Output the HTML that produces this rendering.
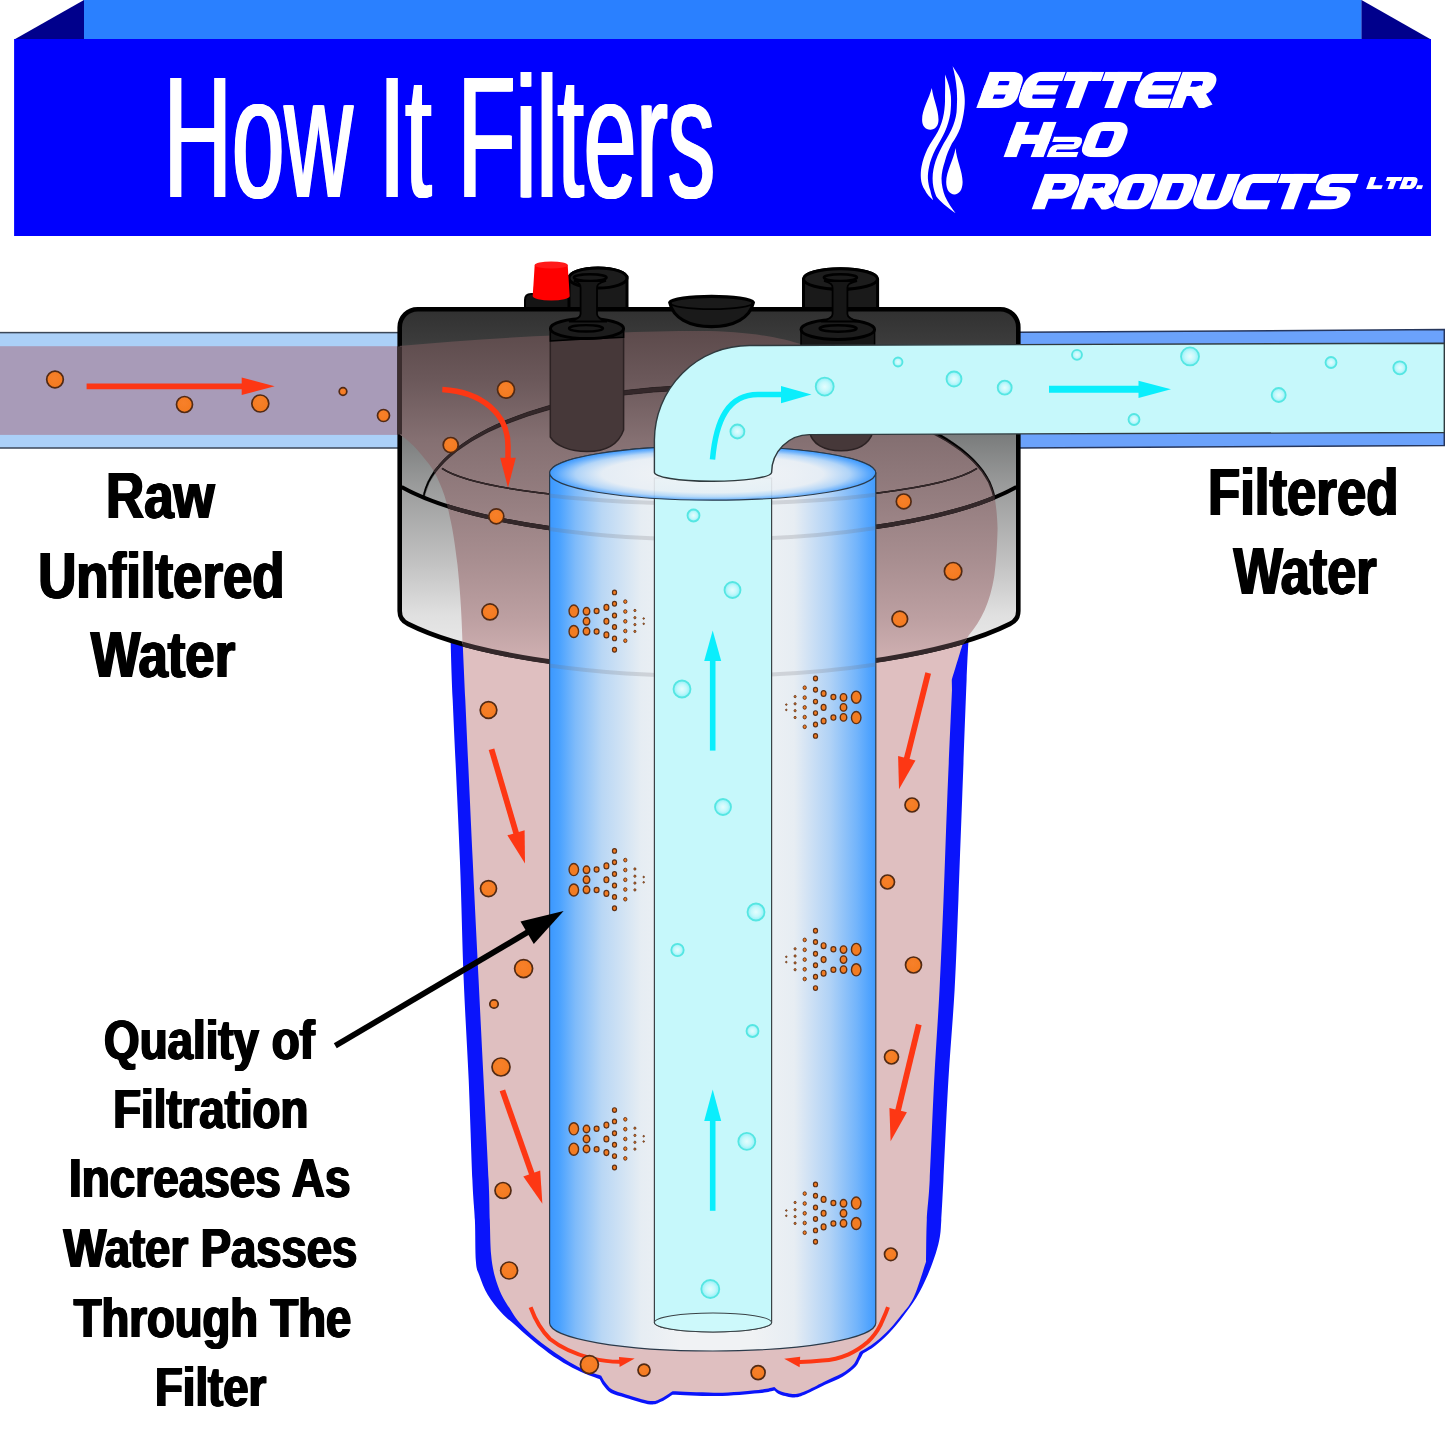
<!DOCTYPE html>
<html><head><meta charset="utf-8"><title>How It Filters</title>
<style>
html,body{margin:0;padding:0;background:#fff;}
body{width:1445px;height:1445px;overflow:hidden;font-family:"Liberation Sans",sans-serif;}
svg{display:block;font-family:"Liberation Sans",sans-serif;}
</style></head><body>
<svg width="1445" height="1445" viewBox="0 0 1445 1445">
<defs>
<radialGradient id="gPart" cx="0.45" cy="0.4" r="0.7">
 <stop offset="0" stop-color="#f7802a"/><stop offset="0.75" stop-color="#f47b20"/><stop offset="1" stop-color="#e8701a"/>
</radialGradient>
<radialGradient id="gBub" cx="0.5" cy="0.5" r="0.5">
 <stop offset="0" stop-color="#e4fdfe"/><stop offset="0.55" stop-color="#c4f8fb"/><stop offset="1" stop-color="#8ff0f8"/>
</radialGradient>
<linearGradient id="gCap" gradientUnits="userSpaceOnUse" x1="0" y1="307" x2="0" y2="672">
 <stop offset="0" stop-color="#303030"/>
 <stop offset="0.09" stop-color="#3b3b3b"/>
 <stop offset="0.364" stop-color="#7d7f7f"/>
 <stop offset="0.493" stop-color="#9b9c9c"/>
 <stop offset="0.693" stop-color="#c0c0c0"/>
 <stop offset="0.844" stop-color="#e0e0e0"/>
 <stop offset="1" stop-color="#efefef"/>
</linearGradient>
<linearGradient id="gWater" gradientUnits="userSpaceOnUse" x1="0" y1="330" x2="0" y2="710">
 <stop offset="0" stop-color="#5c4a4b"/>
 <stop offset="0.13" stop-color="#6b585a"/>
 <stop offset="0.29" stop-color="#857072"/>
 <stop offset="0.447" stop-color="#957e80"/>
 <stop offset="0.605" stop-color="#a88e90"/>
 <stop offset="0.763" stop-color="#bda0a2"/>
 <stop offset="0.88" stop-color="#d2b2b3"/>
 <stop offset="1" stop-color="#dfbfc0"/>
</linearGradient>
<linearGradient id="gCyl" gradientUnits="userSpaceOnUse" x1="549.6" y1="0" x2="875.8" y2="0">
 <stop offset="0" stop-color="#3b98ff"/>
 <stop offset="0.03" stop-color="#4aa2ff"/>
 <stop offset="0.08" stop-color="#7fbbfa"/>
 <stop offset="0.16" stop-color="#b9d7f5"/>
 <stop offset="0.28" stop-color="#e6edf3"/>
 <stop offset="0.40" stop-color="#f0f2f4"/>
 <stop offset="0.62" stop-color="#f0f2f4"/>
 <stop offset="0.75" stop-color="#e7edf3"/>
 <stop offset="0.86" stop-color="#b0d2f6"/>
 <stop offset="0.94" stop-color="#74b5fb"/>
 <stop offset="1" stop-color="#3f9bff"/>
</linearGradient>
<radialGradient id="gCylTop" cx="0.5" cy="0.52" r="0.5">
 <stop offset="0" stop-color="#f3f4f6"/>
 <stop offset="0.68" stop-color="#e9eff5"/>
 <stop offset="0.84" stop-color="#b4d6f8"/>
 <stop offset="0.95" stop-color="#5fabfd"/>
 <stop offset="1" stop-color="#3f9bff"/>
</radialGradient>
<clipPath id="clipCap"><path id="capShape" d="M 417.7,309.2 H 1000.3 A 18 18 0 0 1 1018.3,327.2 V 611 Q 1018.3,620 1010,623.9 A 340 90 0 0 1 408,623.9 Q 399.7,620 399.7,611 V 327.2 A 18 18 0 0 1 417.7,309.2 Z"/></clipPath>
<path id="waterCap" d="M 399,346 C 500,337 620,331 700,331 C 745,331 780,337 803,345 L 936,400 L 936,434.3 A 286 117.5 0 0 1 994.2,494.6 C 996,505 997.3,516 997.6,528.5 C 997,550 996,562 994.4,575 C 992,590 989,600 984.7,610 C 980,620 975,628 969,635 L 960,650 L 960,700 L 464,700 L 462.4,641 C 461.5,610 460,590 457.5,565 C 455,545 453,530 449.8,517 C 447,503 444,493 440,484 C 436,474 431,466 424.6,458.8 C 418,450 410,441 399,434.3 Z"/>
<clipPath id="clipUpper"><path d="M 390,300 H 1030 V 487 L 1016.5,487 A 340 90 0 0 1 401.5,487 L 390,487 Z"/></clipPath>
<clipPath id="clipCyl"><path d="M549.6,473 A163.1,27.2 0 0 0 875.8,473 V1340 H549.6 Z"/></clipPath>
<clipPath id="clipWater"><use href="#waterCap"/></clipPath>
</defs>
<rect width="1445" height="1445" fill="#fff"/>

<g id="banner">
<rect x="83.7" y="0" width="1278" height="40" fill="#2a80ff"/>
<polygon points="84,0 84,39.5 14.3,39.5" fill="#00008c"/>
<polygon points="1361.5,0 1361.5,39.5 1431,39.5" fill="#00008c"/>
<rect x="14.1" y="39" width="1416.9" height="197" fill="#0000fe"/>

<text x="162.40" y="197.0" font-size="172" font-weight="normal" fill="#fff" textLength="551.4" lengthAdjust="spacingAndGlyphs" >How It Filters</text><text x="163.00" y="197.0" font-size="172" font-weight="normal" fill="#fff" textLength="551.4" lengthAdjust="spacingAndGlyphs" >How It Filters</text><text x="163.60" y="197.0" font-size="172" font-weight="normal" fill="#fff" textLength="551.4" lengthAdjust="spacingAndGlyphs" >How It Filters</text><text x="164.20" y="197.0" font-size="172" font-weight="normal" fill="#fff" textLength="551.4" lengthAdjust="spacingAndGlyphs" >How It Filters</text><text x="164.80" y="197.0" font-size="172" font-weight="normal" fill="#fff" textLength="551.4" lengthAdjust="spacingAndGlyphs" >How It Filters</text>
</g>
<g id="logo" fill="none" stroke="#fff" stroke-linejoin="miter" stroke-linecap="square">
<clipPath id="cwBETTER"><rect x="900" y="71.7" width="545" height="36.2"/></clipPath><g clip-path="url(#cwBETTER)"><g transform="matrix(1.413,0,-0.37,1,989.69,71.70)" stroke-width="9.2"><path d="M4.60,4.60 L14.98,4.60 Q21.35,4.60 21.35,11.35 L21.35,11.35 Q21.35,18.10 21.61,18.10 L21.61,18.10 Q21.87,18.10 21.87,24.85 L21.87,24.85 Q21.87,31.60 15.50,31.60 L4.60,31.60 Z"/><path d="M4.60,18.10 L21.35,18.10 "/></g><g transform="matrix(1.413,0,-0.37,1,1028.29,71.70)" stroke-width="9.2"><path d="M21.87,4.60 L10.97,4.60 Q4.60,4.60 4.60,13.60 L4.60,22.60 Q4.60,31.60 10.97,31.60 L21.87,31.60 "/><path d="M4.60,18.10 L20.49,18.10 "/></g><g transform="matrix(1.413,0,-0.37,1,1066.89,71.70)" stroke-width="9.2"><path d="M4.60,4.60 L21.87,4.60 "/><path d="M13.23,4.60 L13.23,31.60 "/></g><g transform="matrix(1.413,0,-0.37,1,1105.49,71.70)" stroke-width="9.2"><path d="M4.60,4.60 L21.87,4.60 "/><path d="M13.23,4.60 L13.23,31.60 "/></g><g transform="matrix(1.413,0,-0.37,1,1144.09,71.70)" stroke-width="9.2"><path d="M21.87,4.60 L10.97,4.60 Q4.60,4.60 4.60,13.60 L4.60,22.60 Q4.60,31.60 10.97,31.60 L21.87,31.60 "/><path d="M4.60,18.10 L20.49,18.10 "/></g><g transform="matrix(1.413,0,-0.37,1,1182.69,71.70)" stroke-width="9.2"><path d="M4.60,31.60 L4.60,4.60 L15.50,4.60 Q21.87,4.60 21.87,12.16 L21.87,12.16 Q21.87,19.72 15.50,19.72 L4.60,19.72 "/><path d="M14.96,19.72 L23.25,31.60 "/></g></g>
<clipPath id="cwH2O"><rect x="900" y="121.7" width="545" height="35.5"/></clipPath><g clip-path="url(#cwH2O)"><g transform="matrix(1.413,0,-0.37,1,1016.63,121.70)" stroke-width="9.2"><path d="M4.60,4.60 L4.60,30.90 "/><path d="M23.71,4.60 L23.71,30.90 "/><path d="M4.60,17.75 L23.71,17.75 "/></g><g transform="matrix(1.442,0,-0.37,1,1054.09,136.70)" stroke-width="5.2"><path d="M2.60,2.60 L15.43,2.60 Q18.20,2.60 18.20,6.43 L18.20,6.42 Q18.20,10.25 15.43,10.25 L5.37,10.25 Q2.60,10.25 2.60,14.08 L2.60,17.90 L18.20,17.90 "/></g><g transform="matrix(1.413,0,-0.37,1,1091.63,121.70)" stroke-width="9.2"><path d="M4.60,17.75 L4.60,11.18 Q4.60,4.60 10.97,4.60 L17.34,4.60 Q23.71,4.60 23.71,13.60 L23.71,21.90 Q23.71,30.90 17.34,30.90 L10.97,30.90 Q4.60,30.90 4.60,24.32 Z"/></g></g>
<clipPath id="cwPRODUCTS"><rect x="900" y="173.8" width="545" height="35.6"/></clipPath><g clip-path="url(#cwPRODUCTS)"><g transform="matrix(1.413,0,-0.37,1,1044.77,173.80)" stroke-width="9.2"><path d="M4.60,31.00 L4.60,4.60 L16.06,4.60 Q22.43,4.60 22.43,12.52 L22.43,12.52 Q22.43,20.44 16.06,20.44 L4.60,20.44 "/></g><g transform="matrix(1.413,0,-0.37,1,1084.17,173.80)" stroke-width="9.2"><path d="M4.60,31.00 L4.60,4.60 L16.06,4.60 Q22.43,4.60 22.43,11.99 L22.43,11.99 Q22.43,19.38 16.06,19.38 L4.60,19.38 "/><path d="M15.30,19.38 L23.86,31.00 "/></g><g transform="matrix(1.413,0,-0.37,1,1123.57,173.80)" stroke-width="9.2"><path d="M4.60,17.80 L4.60,11.20 Q4.60,4.60 10.97,4.60 L16.06,4.60 Q22.43,4.60 22.43,13.60 L22.43,22.00 Q22.43,31.00 16.06,31.00 L10.97,31.00 Q4.60,31.00 4.60,24.40 Z"/></g><g transform="matrix(1.413,0,-0.37,1,1162.97,173.80)" stroke-width="9.2"><path d="M4.60,4.60 L16.06,4.60 Q22.43,4.60 22.43,13.60 L22.43,22.00 Q22.43,31.00 16.06,31.00 L4.60,31.00 Z"/></g><g transform="matrix(1.413,0,-0.37,1,1202.37,173.80)" stroke-width="9.2"><path d="M4.60,4.60 L4.60,22.00 Q4.60,31.00 10.97,31.00 L16.06,31.00 Q22.43,31.00 22.43,22.00 L22.43,4.60 "/></g><g transform="matrix(1.413,0,-0.37,1,1241.77,173.80)" stroke-width="9.2"><path d="M22.43,4.60 L10.97,4.60 Q4.60,4.60 4.60,13.60 L4.60,22.00 Q4.60,31.00 10.97,31.00 L22.43,31.00 "/></g><g transform="matrix(1.413,0,-0.37,1,1281.17,173.80)" stroke-width="9.2"><path d="M4.60,4.60 L22.43,4.60 "/><path d="M13.52,4.60 L13.52,31.00 "/></g><g transform="matrix(1.413,0,-0.37,1,1320.57,173.80)" stroke-width="9.2"><path d="M22.43,4.60 L10.97,4.60 Q4.60,4.60 4.60,11.20 L4.60,11.20 Q4.60,17.80 10.97,17.80 L16.06,17.80 Q22.43,17.80 22.43,24.40 L22.43,24.40 Q22.43,31.00 16.06,31.00 L4.60,31.00 "/></g></g>
<clipPath id="cwLTD"><rect x="900" y="177.0" width="545" height="12.3"/></clipPath><g clip-path="url(#cwLTD)"><g transform="matrix(1.450,0,-0.37,1,1370.55,177.00)" stroke-width="4.0"><path d="M2.00,2.00 L2.00,10.30 L8.55,10.30 "/></g><g transform="matrix(1.450,0,-0.37,1,1387.15,177.00)" stroke-width="4.0"><path d="M2.00,2.00 L8.55,2.00 "/><path d="M5.28,2.00 L5.28,10.30 "/></g><g transform="matrix(1.450,0,-0.37,1,1403.75,177.00)" stroke-width="4.0"><path d="M2.00,2.00 L6.48,2.00 Q8.55,2.00 8.55,5.00 L8.55,7.30 Q8.55,10.30 6.48,10.30 L2.00,10.30 Z"/></g><g transform="matrix(1.450,0,-0.37,1,1420.35,177.00)" stroke-width="4.0"><path d="M2.00,10.30 L2.00,10.30 "/></g></g>
</g>
<g fill="#fff">
<path d="M952.6,66.2 C958,74 963,82 963.8,90.3 C965,98 965,103 964.4,108 C963.5,116 962,122 960.3,128 C958,134 955,139 952,143.2 C949,149 946.5,155 945,160.9 C943,167 941.5,173 941.5,178.5 C941.5,185 943,191 945,196.2 C948,203 952,208.5 955.6,213.2 C947,207 940,201.5 936.2,196.2 C933.5,190 932.6,184 932.6,178.5 C932.6,172 934,166 935.6,160.9 C938,154 941,148.5 943.8,143.2 C948,137 951,131 953.2,125.6 C955.5,119 956.8,114 956.8,108 C957.2,102 957.2,96 956.8,90.3 C956,81 954.5,73 952.6,66.2 Z"/>
<path d="M945,74.4 C948,82 950.4,89 950.9,96.2 C951.3,102 951,108 950.3,113.8 C949.3,120 947.5,126 945,131.5 C942,138 938.5,143.5 935.6,149.1 C932.5,155 930.3,161 929.1,166.8 C928.2,171 927.8,175 927.9,178.5 C928.2,183 929,187 930.3,190.3 C931,194 932,197 933.2,200.3 C929.5,197 926.8,194 925,190.3 C922.5,186.5 921.2,182.5 920.9,178.5 C920.6,174.5 920.8,170.5 921.5,166.8 C922.7,160.5 924.8,154.5 927.4,149.1 C930.5,143 934.5,137.5 937.9,131.5 C940.8,126 942.8,120 943.8,113.8 C944.8,108 945.2,102 945,96.2 C945.2,89 945.2,82 945,74.4 Z"/>
<path d="M931.8,87.9 C933,98 938.5,109 938.5,119.7 C938.5,126 935,129.7 930.3,129.7 C925.5,129.7 922.1,126 922.1,119.7 C922.1,109 929,99 931.8,87.9 Z"/>
<path d="M955.6,147.9 C956.5,160 962.6,171 962.6,182 C962.6,190 959,194.4 954.4,194.4 C949.8,194.4 946.2,190 946.2,182 C946.2,171 953.5,160 955.6,147.9 Z"/>
</g>
<g id="pipes">
<rect x="-2" y="332.6" width="402" height="115.4" fill="#abd0f8" stroke="#3b4758" stroke-width="1.5"/>
<rect x="-2" y="346.2" width="402" height="88.7" fill="#a89bb8"/>
<polygon points="1018,332.3 1444.3,329.5 1444.3,445.6 1018,447.9" fill="#6ba2fb" stroke="#26365c" stroke-width="1.5"/>
</g>
<g id="sump"><path d="M450.5,636.0 C450.9,646.7 451.1,662.7 452.7,700.0 C454.3,737.3 458.1,813.3 459.9,860.0 C461.7,906.7 462.2,943.3 463.7,980.0 C465.2,1016.7 467.2,1046.7 468.7,1080.0 C470.1,1113.3 471.4,1156.7 472.4,1180.0 C473.4,1203.3 474.3,1206.4 474.9,1220.0 C475.5,1233.6 475.1,1252.3 475.9,1261.5 C476.6,1270.7 477.4,1269.9 479.4,1275.4 C481.4,1280.9 484.0,1288.5 487.7,1294.7 C491.4,1300.9 496.9,1307.6 501.5,1312.7 C506.1,1317.8 510.8,1321.1 515.4,1325.2 C520.0,1329.3 523.7,1333.0 529.2,1337.6 C534.7,1342.2 542.1,1348.3 548.6,1352.9 C555.1,1357.5 562.0,1361.8 568.0,1365.3 C574.0,1368.8 579.3,1371.3 584.6,1373.6 C589.9,1375.9 597.3,1378.3 599.8,1379.2 C600.5,1380.3 602.0,1383.8 603.9,1386.1 C605.8,1388.4 607.2,1391.0 610.9,1393.0 C614.6,1395.0 619.5,1396.0 626.1,1397.9 C632.7,1399.8 644.5,1403.8 650.4,1404.4 C656.3,1405.0 657.8,1403.2 661.5,1401.6 C665.2,1400.0 670.8,1395.8 672.6,1394.7 C680.0,1394.9 702.6,1396.3 716.9,1396.1 C731.2,1395.9 748.8,1394.2 758.4,1393.3 C768.0,1392.4 771.6,1391.0 774.3,1390.5 C775.3,1391.2 777.1,1393.5 780.5,1394.7 C783.9,1395.9 790.2,1397.5 794.4,1397.4 C798.6,1397.3 800.6,1396.3 805.7,1394.2 C810.8,1392.1 818.8,1387.7 825.0,1384.7 C831.2,1381.7 837.9,1379.4 843.0,1376.4 C848.1,1373.4 852.7,1369.5 855.5,1366.7 C858.3,1363.9 858.4,1362.0 859.7,1359.8 C861.0,1357.6 862.5,1354.6 863.1,1353.6 C865.1,1352.3 870.6,1349.3 874.9,1346.0 C879.2,1342.7 884.1,1338.3 888.7,1333.5 C893.3,1328.7 898.0,1322.9 902.6,1316.9 C907.2,1310.9 912.2,1304.4 916.4,1297.5 C920.5,1290.6 924.3,1282.8 927.5,1275.4 C930.7,1268.0 933.7,1259.7 935.8,1253.2 C937.9,1246.7 939.0,1242.1 939.9,1236.6 C940.8,1231.1 940.7,1229.4 941.3,1220.0 C941.9,1210.6 942.2,1203.3 943.4,1180.0 C944.6,1156.7 946.5,1111.7 948.4,1080.0 C950.3,1048.3 952.9,1020.0 954.6,990.0 C956.3,960.0 957.1,931.7 958.4,900.0 C959.6,868.3 960.7,836.7 962.1,800.0 C963.5,763.3 965.5,706.7 966.6,680.0 C967.7,653.3 968.2,646.7 968.5,640.0 Z" fill="#0a14fb"/><path d="M462.4,636.0 C462.9,646.7 463.6,662.7 465.3,700.0 C467.0,737.3 470.5,813.3 472.7,860.0 C474.9,906.7 476.8,943.3 478.6,980.0 C480.4,1016.7 481.9,1046.7 483.6,1080.0 C485.3,1113.3 487.6,1156.7 488.6,1180.0 C489.6,1203.3 489.4,1207.6 489.8,1220.0 C490.2,1232.4 490.3,1245.4 491.1,1254.6 C491.9,1263.8 492.9,1268.7 494.6,1275.4 C496.3,1282.1 499.0,1289.2 501.5,1294.7 C504.0,1300.2 507.0,1304.2 509.8,1308.6 C512.6,1313.0 514.4,1316.6 518.1,1321.0 C521.8,1325.4 526.5,1330.1 532.0,1334.9 C537.5,1339.8 545.1,1345.6 551.3,1350.1 C557.5,1354.6 563.6,1358.6 569.3,1361.9 C575.0,1365.2 580.0,1367.9 585.3,1370.2 C590.6,1372.5 598.6,1374.8 601.2,1375.7 C601.9,1376.8 603.5,1380.3 605.3,1382.6 C607.1,1384.9 608.7,1387.6 612.2,1389.6 C615.7,1391.6 619.7,1392.5 626.1,1394.4 C632.5,1396.3 644.5,1400.4 650.4,1401.0 C656.3,1401.6 657.8,1399.8 661.5,1398.2 C665.2,1396.6 670.8,1392.5 672.6,1391.3 C680.0,1391.5 702.6,1392.9 716.9,1392.7 C731.2,1392.5 748.8,1390.8 758.4,1389.9 C768.0,1389.0 771.6,1387.6 774.3,1387.1 C775.3,1387.8 777.1,1390.1 780.5,1391.3 C783.9,1392.5 790.2,1394.0 794.4,1394.0 C798.6,1394.0 800.6,1393.0 805.5,1391.0 C810.4,1389.0 817.7,1384.8 823.7,1381.9 C829.7,1379.0 836.9,1376.4 841.7,1373.6 C846.5,1370.8 850.2,1367.8 852.7,1365.3 C855.2,1362.8 855.7,1360.6 856.9,1358.4 C858.1,1356.2 859.2,1353.2 859.7,1352.2 C861.8,1350.9 867.7,1347.8 872.1,1344.6 C876.5,1341.4 881.4,1337.4 886.0,1332.8 C890.6,1328.2 895.2,1322.8 899.8,1316.9 C904.4,1311.0 909.2,1306.7 913.6,1297.5 C918.0,1288.3 924.0,1267.5 926.1,1261.5 C926.2,1254.6 926.2,1233.6 926.8,1220.0 C927.4,1206.4 928.5,1203.3 929.7,1180.0 C930.9,1156.7 932.6,1111.7 934.2,1080.0 C935.8,1048.3 938.0,1020.0 939.5,990.0 C941.0,960.0 942.2,931.7 943.5,900.0 C944.8,868.3 945.8,835.0 947.2,800.0 C948.6,765.0 951.2,708.3 952.0,690.0 C952.0,688.3 951.8,681.4 951.8,679.7 C953.6,673.9 960.6,650.8 962.4,645.0 C962.3,643.5 962.1,637.5 962.0,636.0 Z" fill="#dfbfc0"/></g>
<g id="capTopParts">
<path d="M525,309 V300 Q525,294 531,294 H572 Q577,294 577,300 V309 Z" fill="#151515" stroke="#000" stroke-width="2"/>
<path d="M569,278 A29,10 0 0 1 627,278 V310 H569 Z" fill="#1a1a1a" stroke="#000" stroke-width="3"/>
<ellipse cx="598" cy="278" rx="29" ry="10" fill="#1c1c1c" stroke="#000" stroke-width="3"/>
<ellipse cx="590.2" cy="277.6" rx="16.4" ry="3.3" fill="#1a1a1a" stroke="#000" stroke-width="2.4"/>
<path d="M534.7,265 L532.7,296 A18.5,4.5 0 0 0 569.7,296 L567.7,265 Z" fill="#ff0000"/>
<ellipse cx="551.2" cy="265" rx="16.5" ry="3.6" fill="#ff1a1a"/>
<path d="M803.5,279 A37,10.3 0 0 1 877.6,279 V310 H803.5 Z" fill="#1a1a1a" stroke="#000" stroke-width="3"/>
<ellipse cx="840.5" cy="279" rx="37" ry="10.3" fill="#1c1c1c" stroke="#000" stroke-width="3"/>
<ellipse cx="840.4" cy="277.6" rx="16.6" ry="3.3" fill="#1a1a1a" stroke="#000" stroke-width="2.4"/>
</g>
<g id="cap">
<use href="#capShape" fill="url(#gCap)" stroke="#000" stroke-width="4.6"/>
<g clip-path="url(#clipCap)"><use href="#waterCap" fill="url(#gWater)"/></g>
<g clip-path="url(#clipCap)"><path d="M 401.5,487 A 340 90 0 0 0 1016.5,487" fill="none" stroke="#000" stroke-width="4.2"/><g clip-path="url(#clipUpper)" fill="#000" stroke="#000" stroke-width="0.4"><path fill-rule="evenodd" d="M 422.1,505 A 286.8 119.7 0 0 1 995.7,505 A 286.8 119.7 0 0 1 422.1,505 Z M 423.7,505 A 285.2 115.3 0 0 1 994.1,505 A 285.2 115.3 0 0 1 423.7,505 Z"/></g><path d="M 442,468.4 A 275 44 0 0 0 977,468.4" fill="none" stroke="#000" stroke-width="1.5"/></g>
<line x1="399.7" y1="346.5" x2="399.7" y2="434.5" stroke="#3b2d2e" stroke-width="4.6"/>
<g clip-path="url(#clipWater)"><path d="M 401.5,487 A 340 90 0 0 0 1016.5,487" fill="none" stroke="#34282a" stroke-width="4.2"/><g clip-path="url(#clipUpper)" fill="#34282a" stroke="#34282a" stroke-width="0.4"><path fill-rule="evenodd" d="M 422.1,505 A 286.8 119.7 0 0 1 995.7,505 A 286.8 119.7 0 0 1 422.1,505 Z M 423.7,505 A 285.2 115.3 0 0 1 994.1,505 A 285.2 115.3 0 0 1 423.7,505 Z"/></g><path d="M 442,468.4 A 275 44 0 0 0 977,468.4" fill="none" stroke="#34282a" stroke-width="1.5"/><path d="M 1010,623.9 A 340 90 0 0 1 408,623.9" fill="none" stroke="#34282a" stroke-width="4.8"/></g>
</g>
<g id="ports">
<!-- left lower column -->
<path d="M550.3,329 V437 C556,446 570,451.5 587,451.5 C604,451.5 618,446 623.6,430 V329 Z" fill="#463839" stroke="#2c2223" stroke-width="1.5"/>
<path d="M550.3,329 V341 C575,339.5 600,338.3 623.6,337.3 V329 Z" fill="#161616" stroke="#000" stroke-width="1.5"/>
<ellipse cx="587" cy="328.6" rx="36.6" ry="10" fill="#1c1c1c" stroke="#000" stroke-width="3"/>
<ellipse cx="586" cy="328.3" rx="17" ry="3.2" fill="#1a1a1a" stroke="#000" stroke-width="2.4"/>
<path d="M574,281 C580,283 580.6,285 580.6,288 V314 C580.6,318 575,320 569,321.5 H607 C602,320 597,318 597,314 V288 C597,285 598,283 606,281 Z" fill="#161616" stroke="#000" stroke-width="1.8"/>
<!-- right lower column -->
<path d="M801,330 V346 H874.6 V330 Z" fill="#161616" stroke="#000" stroke-width="1.5"/>
<ellipse cx="837.8" cy="329.5" rx="36.8" ry="10" fill="#1c1c1c" stroke="#000" stroke-width="3"/>
<ellipse cx="838.1" cy="328.5" rx="18.5" ry="3.2" fill="#1a1a1a" stroke="#000" stroke-width="2.4"/>
<path d="M824,281 C831.5,283 832.6,285 832.6,288 V314 C832.6,318 827,320 821,321.5 H859 C853,320 847.4,318 847.4,314 V288 C847.4,285 848.5,283 857,281 Z" fill="#161616" stroke="#000" stroke-width="1.8"/>
<path d="M809.7,432 C812,444 824,450.7 841,450.7 C858,450.7 869,444 873,432 Z" fill="#463839" stroke="#2c2223" stroke-width="1.5"/>
<!-- dome -->
<path d="M669.7,302.5 A42,6.6 0 0 1 753.4,302.5 C750,318 734,326.6 711.5,326.6 C689,326.6 673,318 669.7,302.5 Z" fill="#1a1a1a" stroke="#000" stroke-width="3.2" stroke-linejoin="round"/>
<path d="M670.5,303 A41,6.2 0 0 0 752.6,303" fill="none" stroke="#000" stroke-width="1.8"/>
</g>
<g id="filter">
<path d="M549.6,473 V1323 A163.1,28 0 0 0 875.8,1323 V473 A163.1,27.2 0 0 0 549.6,473 Z" fill="url(#gCyl)" stroke="#2a3a4a" stroke-width="1.2"/>
<g fill="none" stroke="#70747c" stroke-opacity="0.22" stroke-width="4" clip-path="url(#clipCyl)">
<path d="M 442,470 A 275 44 0 0 0 977,470"/>
<path d="M 401.5,488 A 340 90 0 0 0 1016.5,488"/>
<path d="M 1010,628 A 340 90 0 0 1 408,628"/>
</g>
<!-- inner tube -->
<path d="M654.4,478 V1322.5 A58.6,9.5 0 0 0 771.6,1322.5 V478 Z" fill="#c6f8fb" stroke="#3a4246" stroke-width="1.2"/>
<ellipse cx="713" cy="1322.5" rx="58.6" ry="9.5" fill="#cdf9fb" stroke="#3a4246" stroke-width="1.1"/>
<ellipse cx="712.7" cy="473" rx="163.1" ry="27.2" fill="url(#gCylTop)" fill-opacity="0.9" stroke="#2a3a4a" stroke-width="1.2"/>
</g>
<g id="elbow">
<path d="M654.4,472 V440 A95,95 0 0 1 749.4,345.5 L1444.3,343.2 V432.5 L809.6,434.6 A38,38 0 0 0 771.6,472.6 A58.6,9 0 0 1 654.4,472 Z" fill="#c6f8fb" stroke="#2f3a3e" stroke-width="1.4"/>
</g>
<g id="patterns">
<ellipse cx="573.8" cy="611.1" rx="4.75" ry="6.05" fill="#f27c22" stroke="#5e3116" stroke-width="1.4"/><ellipse cx="573.8" cy="631.5" rx="4.75" ry="6.05" fill="#f27c22" stroke="#5e3116" stroke-width="1.4"/><ellipse cx="586.5" cy="611.3" rx="3.25" ry="3.75" fill="#f27c22" stroke="#5e3116" stroke-width="1.4"/><ellipse cx="586.5" cy="621.3" rx="3.25" ry="3.75" fill="#f27c22" stroke="#5e3116" stroke-width="1.4"/><ellipse cx="586.5" cy="631.3" rx="3.25" ry="3.75" fill="#f27c22" stroke="#5e3116" stroke-width="1.4"/><ellipse cx="596.6" cy="611.0" rx="2.45" ry="2.65" fill="#f27c22" stroke="#5e3116" stroke-width="1.2"/><ellipse cx="596.6" cy="631.5" rx="2.45" ry="2.65" fill="#f27c22" stroke="#5e3116" stroke-width="1.2"/><ellipse cx="606.4" cy="607.4" rx="2.45" ry="2.95" fill="#f27c22" stroke="#5e3116" stroke-width="1.2"/><ellipse cx="606.4" cy="621.3" rx="2.45" ry="2.95" fill="#f27c22" stroke="#5e3116" stroke-width="1.2"/><ellipse cx="606.4" cy="634.9" rx="2.45" ry="2.95" fill="#f27c22" stroke="#5e3116" stroke-width="1.2"/><ellipse cx="614.5" cy="592.4" rx="2.05" ry="2.35" fill="#f27c22" stroke="#5e3116" stroke-width="1.2"/><ellipse cx="614.5" cy="603.7" rx="2.05" ry="2.35" fill="#f27c22" stroke="#5e3116" stroke-width="1.2"/><ellipse cx="614.5" cy="615.5" rx="2.05" ry="2.35" fill="#f27c22" stroke="#5e3116" stroke-width="1.2"/><ellipse cx="614.5" cy="627.0" rx="2.05" ry="2.35" fill="#f27c22" stroke="#5e3116" stroke-width="1.2"/><ellipse cx="614.5" cy="638.4" rx="2.05" ry="2.35" fill="#f27c22" stroke="#5e3116" stroke-width="1.2"/><ellipse cx="614.5" cy="649.8" rx="2.05" ry="2.35" fill="#f27c22" stroke="#5e3116" stroke-width="1.2"/><ellipse cx="625.3" cy="601.6" rx="1.65" ry="1.85" fill="#f27c22" stroke="#5e3116" stroke-width="0.9"/><ellipse cx="625.3" cy="611.5" rx="1.65" ry="1.85" fill="#f27c22" stroke="#5e3116" stroke-width="0.9"/><ellipse cx="625.3" cy="621.3" rx="1.65" ry="1.85" fill="#f27c22" stroke="#5e3116" stroke-width="0.9"/><ellipse cx="625.3" cy="631.0" rx="1.65" ry="1.85" fill="#f27c22" stroke="#5e3116" stroke-width="0.9"/><ellipse cx="625.3" cy="640.7" rx="1.65" ry="1.85" fill="#f27c22" stroke="#5e3116" stroke-width="0.9"/><ellipse cx="634.9" cy="610.5" rx="1.05" ry="1.15" fill="#f27c22" stroke="#5e3116" stroke-width="0.9"/><ellipse cx="634.9" cy="617.7" rx="1.05" ry="1.15" fill="#f27c22" stroke="#5e3116" stroke-width="0.9"/><ellipse cx="634.9" cy="624.6" rx="1.05" ry="1.15" fill="#f27c22" stroke="#5e3116" stroke-width="0.9"/><ellipse cx="634.9" cy="631.4" rx="1.05" ry="1.15" fill="#f27c22" stroke="#5e3116" stroke-width="0.9"/><ellipse cx="643.7" cy="618.5" rx="0.75" ry="0.75" fill="#f27c22" stroke="#5e3116" stroke-width="0.9"/><ellipse cx="643.7" cy="623.8" rx="0.75" ry="0.75" fill="#f27c22" stroke="#5e3116" stroke-width="0.9"/>
<ellipse cx="573.8" cy="869.6" rx="4.75" ry="6.05" fill="#f27c22" stroke="#5e3116" stroke-width="1.4"/><ellipse cx="573.8" cy="890.0" rx="4.75" ry="6.05" fill="#f27c22" stroke="#5e3116" stroke-width="1.4"/><ellipse cx="586.5" cy="869.8" rx="3.25" ry="3.75" fill="#f27c22" stroke="#5e3116" stroke-width="1.4"/><ellipse cx="586.5" cy="879.8" rx="3.25" ry="3.75" fill="#f27c22" stroke="#5e3116" stroke-width="1.4"/><ellipse cx="586.5" cy="889.8" rx="3.25" ry="3.75" fill="#f27c22" stroke="#5e3116" stroke-width="1.4"/><ellipse cx="596.6" cy="869.5" rx="2.45" ry="2.65" fill="#f27c22" stroke="#5e3116" stroke-width="1.2"/><ellipse cx="596.6" cy="890.0" rx="2.45" ry="2.65" fill="#f27c22" stroke="#5e3116" stroke-width="1.2"/><ellipse cx="606.4" cy="865.9" rx="2.45" ry="2.95" fill="#f27c22" stroke="#5e3116" stroke-width="1.2"/><ellipse cx="606.4" cy="879.8" rx="2.45" ry="2.95" fill="#f27c22" stroke="#5e3116" stroke-width="1.2"/><ellipse cx="606.4" cy="893.4" rx="2.45" ry="2.95" fill="#f27c22" stroke="#5e3116" stroke-width="1.2"/><ellipse cx="614.5" cy="850.9" rx="2.05" ry="2.35" fill="#f27c22" stroke="#5e3116" stroke-width="1.2"/><ellipse cx="614.5" cy="862.2" rx="2.05" ry="2.35" fill="#f27c22" stroke="#5e3116" stroke-width="1.2"/><ellipse cx="614.5" cy="874.0" rx="2.05" ry="2.35" fill="#f27c22" stroke="#5e3116" stroke-width="1.2"/><ellipse cx="614.5" cy="885.5" rx="2.05" ry="2.35" fill="#f27c22" stroke="#5e3116" stroke-width="1.2"/><ellipse cx="614.5" cy="896.9" rx="2.05" ry="2.35" fill="#f27c22" stroke="#5e3116" stroke-width="1.2"/><ellipse cx="614.5" cy="908.3" rx="2.05" ry="2.35" fill="#f27c22" stroke="#5e3116" stroke-width="1.2"/><ellipse cx="625.3" cy="860.1" rx="1.65" ry="1.85" fill="#f27c22" stroke="#5e3116" stroke-width="0.9"/><ellipse cx="625.3" cy="870.0" rx="1.65" ry="1.85" fill="#f27c22" stroke="#5e3116" stroke-width="0.9"/><ellipse cx="625.3" cy="879.8" rx="1.65" ry="1.85" fill="#f27c22" stroke="#5e3116" stroke-width="0.9"/><ellipse cx="625.3" cy="889.5" rx="1.65" ry="1.85" fill="#f27c22" stroke="#5e3116" stroke-width="0.9"/><ellipse cx="625.3" cy="899.2" rx="1.65" ry="1.85" fill="#f27c22" stroke="#5e3116" stroke-width="0.9"/><ellipse cx="634.9" cy="869.0" rx="1.05" ry="1.15" fill="#f27c22" stroke="#5e3116" stroke-width="0.9"/><ellipse cx="634.9" cy="876.2" rx="1.05" ry="1.15" fill="#f27c22" stroke="#5e3116" stroke-width="0.9"/><ellipse cx="634.9" cy="883.1" rx="1.05" ry="1.15" fill="#f27c22" stroke="#5e3116" stroke-width="0.9"/><ellipse cx="634.9" cy="889.9" rx="1.05" ry="1.15" fill="#f27c22" stroke="#5e3116" stroke-width="0.9"/><ellipse cx="643.7" cy="877.0" rx="0.75" ry="0.75" fill="#f27c22" stroke="#5e3116" stroke-width="0.9"/><ellipse cx="643.7" cy="882.3" rx="0.75" ry="0.75" fill="#f27c22" stroke="#5e3116" stroke-width="0.9"/>
<ellipse cx="573.8" cy="1128.8" rx="4.75" ry="6.05" fill="#f27c22" stroke="#5e3116" stroke-width="1.4"/><ellipse cx="573.8" cy="1149.2" rx="4.75" ry="6.05" fill="#f27c22" stroke="#5e3116" stroke-width="1.4"/><ellipse cx="586.5" cy="1129.0" rx="3.25" ry="3.75" fill="#f27c22" stroke="#5e3116" stroke-width="1.4"/><ellipse cx="586.5" cy="1139.0" rx="3.25" ry="3.75" fill="#f27c22" stroke="#5e3116" stroke-width="1.4"/><ellipse cx="586.5" cy="1149.0" rx="3.25" ry="3.75" fill="#f27c22" stroke="#5e3116" stroke-width="1.4"/><ellipse cx="596.6" cy="1128.7" rx="2.45" ry="2.65" fill="#f27c22" stroke="#5e3116" stroke-width="1.2"/><ellipse cx="596.6" cy="1149.2" rx="2.45" ry="2.65" fill="#f27c22" stroke="#5e3116" stroke-width="1.2"/><ellipse cx="606.4" cy="1125.1" rx="2.45" ry="2.95" fill="#f27c22" stroke="#5e3116" stroke-width="1.2"/><ellipse cx="606.4" cy="1139.0" rx="2.45" ry="2.95" fill="#f27c22" stroke="#5e3116" stroke-width="1.2"/><ellipse cx="606.4" cy="1152.6" rx="2.45" ry="2.95" fill="#f27c22" stroke="#5e3116" stroke-width="1.2"/><ellipse cx="614.5" cy="1110.1" rx="2.05" ry="2.35" fill="#f27c22" stroke="#5e3116" stroke-width="1.2"/><ellipse cx="614.5" cy="1121.4" rx="2.05" ry="2.35" fill="#f27c22" stroke="#5e3116" stroke-width="1.2"/><ellipse cx="614.5" cy="1133.2" rx="2.05" ry="2.35" fill="#f27c22" stroke="#5e3116" stroke-width="1.2"/><ellipse cx="614.5" cy="1144.7" rx="2.05" ry="2.35" fill="#f27c22" stroke="#5e3116" stroke-width="1.2"/><ellipse cx="614.5" cy="1156.1" rx="2.05" ry="2.35" fill="#f27c22" stroke="#5e3116" stroke-width="1.2"/><ellipse cx="614.5" cy="1167.5" rx="2.05" ry="2.35" fill="#f27c22" stroke="#5e3116" stroke-width="1.2"/><ellipse cx="625.3" cy="1119.3" rx="1.65" ry="1.85" fill="#f27c22" stroke="#5e3116" stroke-width="0.9"/><ellipse cx="625.3" cy="1129.2" rx="1.65" ry="1.85" fill="#f27c22" stroke="#5e3116" stroke-width="0.9"/><ellipse cx="625.3" cy="1139.0" rx="1.65" ry="1.85" fill="#f27c22" stroke="#5e3116" stroke-width="0.9"/><ellipse cx="625.3" cy="1148.7" rx="1.65" ry="1.85" fill="#f27c22" stroke="#5e3116" stroke-width="0.9"/><ellipse cx="625.3" cy="1158.4" rx="1.65" ry="1.85" fill="#f27c22" stroke="#5e3116" stroke-width="0.9"/><ellipse cx="634.9" cy="1128.2" rx="1.05" ry="1.15" fill="#f27c22" stroke="#5e3116" stroke-width="0.9"/><ellipse cx="634.9" cy="1135.4" rx="1.05" ry="1.15" fill="#f27c22" stroke="#5e3116" stroke-width="0.9"/><ellipse cx="634.9" cy="1142.3" rx="1.05" ry="1.15" fill="#f27c22" stroke="#5e3116" stroke-width="0.9"/><ellipse cx="634.9" cy="1149.1" rx="1.05" ry="1.15" fill="#f27c22" stroke="#5e3116" stroke-width="0.9"/><ellipse cx="643.7" cy="1136.2" rx="0.75" ry="0.75" fill="#f27c22" stroke="#5e3116" stroke-width="0.9"/><ellipse cx="643.7" cy="1141.5" rx="0.75" ry="0.75" fill="#f27c22" stroke="#5e3116" stroke-width="0.9"/>
<ellipse cx="856.2" cy="697.2" rx="4.75" ry="6.05" fill="#f27c22" stroke="#5e3116" stroke-width="1.4"/><ellipse cx="856.2" cy="717.6" rx="4.75" ry="6.05" fill="#f27c22" stroke="#5e3116" stroke-width="1.4"/><ellipse cx="843.5" cy="697.4" rx="3.25" ry="3.75" fill="#f27c22" stroke="#5e3116" stroke-width="1.4"/><ellipse cx="843.5" cy="707.4" rx="3.25" ry="3.75" fill="#f27c22" stroke="#5e3116" stroke-width="1.4"/><ellipse cx="843.5" cy="717.4" rx="3.25" ry="3.75" fill="#f27c22" stroke="#5e3116" stroke-width="1.4"/><ellipse cx="833.4" cy="697.1" rx="2.45" ry="2.65" fill="#f27c22" stroke="#5e3116" stroke-width="1.2"/><ellipse cx="833.4" cy="717.6" rx="2.45" ry="2.65" fill="#f27c22" stroke="#5e3116" stroke-width="1.2"/><ellipse cx="823.6" cy="693.5" rx="2.45" ry="2.95" fill="#f27c22" stroke="#5e3116" stroke-width="1.2"/><ellipse cx="823.6" cy="707.4" rx="2.45" ry="2.95" fill="#f27c22" stroke="#5e3116" stroke-width="1.2"/><ellipse cx="823.6" cy="721.0" rx="2.45" ry="2.95" fill="#f27c22" stroke="#5e3116" stroke-width="1.2"/><ellipse cx="815.5" cy="678.5" rx="2.05" ry="2.35" fill="#f27c22" stroke="#5e3116" stroke-width="1.2"/><ellipse cx="815.5" cy="689.8" rx="2.05" ry="2.35" fill="#f27c22" stroke="#5e3116" stroke-width="1.2"/><ellipse cx="815.5" cy="701.6" rx="2.05" ry="2.35" fill="#f27c22" stroke="#5e3116" stroke-width="1.2"/><ellipse cx="815.5" cy="713.1" rx="2.05" ry="2.35" fill="#f27c22" stroke="#5e3116" stroke-width="1.2"/><ellipse cx="815.5" cy="724.5" rx="2.05" ry="2.35" fill="#f27c22" stroke="#5e3116" stroke-width="1.2"/><ellipse cx="815.5" cy="735.9" rx="2.05" ry="2.35" fill="#f27c22" stroke="#5e3116" stroke-width="1.2"/><ellipse cx="804.7" cy="687.7" rx="1.65" ry="1.85" fill="#f27c22" stroke="#5e3116" stroke-width="0.9"/><ellipse cx="804.7" cy="697.6" rx="1.65" ry="1.85" fill="#f27c22" stroke="#5e3116" stroke-width="0.9"/><ellipse cx="804.7" cy="707.4" rx="1.65" ry="1.85" fill="#f27c22" stroke="#5e3116" stroke-width="0.9"/><ellipse cx="804.7" cy="717.1" rx="1.65" ry="1.85" fill="#f27c22" stroke="#5e3116" stroke-width="0.9"/><ellipse cx="804.7" cy="726.8" rx="1.65" ry="1.85" fill="#f27c22" stroke="#5e3116" stroke-width="0.9"/><ellipse cx="795.1" cy="696.6" rx="1.05" ry="1.15" fill="#f27c22" stroke="#5e3116" stroke-width="0.9"/><ellipse cx="795.1" cy="703.8" rx="1.05" ry="1.15" fill="#f27c22" stroke="#5e3116" stroke-width="0.9"/><ellipse cx="795.1" cy="710.7" rx="1.05" ry="1.15" fill="#f27c22" stroke="#5e3116" stroke-width="0.9"/><ellipse cx="795.1" cy="717.5" rx="1.05" ry="1.15" fill="#f27c22" stroke="#5e3116" stroke-width="0.9"/><ellipse cx="786.3" cy="704.6" rx="0.75" ry="0.75" fill="#f27c22" stroke="#5e3116" stroke-width="0.9"/><ellipse cx="786.3" cy="709.9" rx="0.75" ry="0.75" fill="#f27c22" stroke="#5e3116" stroke-width="0.9"/>
<ellipse cx="856.2" cy="949.4" rx="4.75" ry="6.05" fill="#f27c22" stroke="#5e3116" stroke-width="1.4"/><ellipse cx="856.2" cy="969.8" rx="4.75" ry="6.05" fill="#f27c22" stroke="#5e3116" stroke-width="1.4"/><ellipse cx="843.5" cy="949.6" rx="3.25" ry="3.75" fill="#f27c22" stroke="#5e3116" stroke-width="1.4"/><ellipse cx="843.5" cy="959.6" rx="3.25" ry="3.75" fill="#f27c22" stroke="#5e3116" stroke-width="1.4"/><ellipse cx="843.5" cy="969.6" rx="3.25" ry="3.75" fill="#f27c22" stroke="#5e3116" stroke-width="1.4"/><ellipse cx="833.4" cy="949.3" rx="2.45" ry="2.65" fill="#f27c22" stroke="#5e3116" stroke-width="1.2"/><ellipse cx="833.4" cy="969.8" rx="2.45" ry="2.65" fill="#f27c22" stroke="#5e3116" stroke-width="1.2"/><ellipse cx="823.6" cy="945.7" rx="2.45" ry="2.95" fill="#f27c22" stroke="#5e3116" stroke-width="1.2"/><ellipse cx="823.6" cy="959.6" rx="2.45" ry="2.95" fill="#f27c22" stroke="#5e3116" stroke-width="1.2"/><ellipse cx="823.6" cy="973.2" rx="2.45" ry="2.95" fill="#f27c22" stroke="#5e3116" stroke-width="1.2"/><ellipse cx="815.5" cy="930.7" rx="2.05" ry="2.35" fill="#f27c22" stroke="#5e3116" stroke-width="1.2"/><ellipse cx="815.5" cy="942.0" rx="2.05" ry="2.35" fill="#f27c22" stroke="#5e3116" stroke-width="1.2"/><ellipse cx="815.5" cy="953.8" rx="2.05" ry="2.35" fill="#f27c22" stroke="#5e3116" stroke-width="1.2"/><ellipse cx="815.5" cy="965.3" rx="2.05" ry="2.35" fill="#f27c22" stroke="#5e3116" stroke-width="1.2"/><ellipse cx="815.5" cy="976.7" rx="2.05" ry="2.35" fill="#f27c22" stroke="#5e3116" stroke-width="1.2"/><ellipse cx="815.5" cy="988.1" rx="2.05" ry="2.35" fill="#f27c22" stroke="#5e3116" stroke-width="1.2"/><ellipse cx="804.7" cy="939.9" rx="1.65" ry="1.85" fill="#f27c22" stroke="#5e3116" stroke-width="0.9"/><ellipse cx="804.7" cy="949.8" rx="1.65" ry="1.85" fill="#f27c22" stroke="#5e3116" stroke-width="0.9"/><ellipse cx="804.7" cy="959.6" rx="1.65" ry="1.85" fill="#f27c22" stroke="#5e3116" stroke-width="0.9"/><ellipse cx="804.7" cy="969.3" rx="1.65" ry="1.85" fill="#f27c22" stroke="#5e3116" stroke-width="0.9"/><ellipse cx="804.7" cy="979.0" rx="1.65" ry="1.85" fill="#f27c22" stroke="#5e3116" stroke-width="0.9"/><ellipse cx="795.1" cy="948.8" rx="1.05" ry="1.15" fill="#f27c22" stroke="#5e3116" stroke-width="0.9"/><ellipse cx="795.1" cy="956.0" rx="1.05" ry="1.15" fill="#f27c22" stroke="#5e3116" stroke-width="0.9"/><ellipse cx="795.1" cy="962.9" rx="1.05" ry="1.15" fill="#f27c22" stroke="#5e3116" stroke-width="0.9"/><ellipse cx="795.1" cy="969.7" rx="1.05" ry="1.15" fill="#f27c22" stroke="#5e3116" stroke-width="0.9"/><ellipse cx="786.3" cy="956.8" rx="0.75" ry="0.75" fill="#f27c22" stroke="#5e3116" stroke-width="0.9"/><ellipse cx="786.3" cy="962.1" rx="0.75" ry="0.75" fill="#f27c22" stroke="#5e3116" stroke-width="0.9"/>
<ellipse cx="856.2" cy="1203.1" rx="4.75" ry="6.05" fill="#f27c22" stroke="#5e3116" stroke-width="1.4"/><ellipse cx="856.2" cy="1223.5" rx="4.75" ry="6.05" fill="#f27c22" stroke="#5e3116" stroke-width="1.4"/><ellipse cx="843.5" cy="1203.3" rx="3.25" ry="3.75" fill="#f27c22" stroke="#5e3116" stroke-width="1.4"/><ellipse cx="843.5" cy="1213.3" rx="3.25" ry="3.75" fill="#f27c22" stroke="#5e3116" stroke-width="1.4"/><ellipse cx="843.5" cy="1223.3" rx="3.25" ry="3.75" fill="#f27c22" stroke="#5e3116" stroke-width="1.4"/><ellipse cx="833.4" cy="1203.0" rx="2.45" ry="2.65" fill="#f27c22" stroke="#5e3116" stroke-width="1.2"/><ellipse cx="833.4" cy="1223.5" rx="2.45" ry="2.65" fill="#f27c22" stroke="#5e3116" stroke-width="1.2"/><ellipse cx="823.6" cy="1199.4" rx="2.45" ry="2.95" fill="#f27c22" stroke="#5e3116" stroke-width="1.2"/><ellipse cx="823.6" cy="1213.3" rx="2.45" ry="2.95" fill="#f27c22" stroke="#5e3116" stroke-width="1.2"/><ellipse cx="823.6" cy="1226.9" rx="2.45" ry="2.95" fill="#f27c22" stroke="#5e3116" stroke-width="1.2"/><ellipse cx="815.5" cy="1184.4" rx="2.05" ry="2.35" fill="#f27c22" stroke="#5e3116" stroke-width="1.2"/><ellipse cx="815.5" cy="1195.7" rx="2.05" ry="2.35" fill="#f27c22" stroke="#5e3116" stroke-width="1.2"/><ellipse cx="815.5" cy="1207.5" rx="2.05" ry="2.35" fill="#f27c22" stroke="#5e3116" stroke-width="1.2"/><ellipse cx="815.5" cy="1219.0" rx="2.05" ry="2.35" fill="#f27c22" stroke="#5e3116" stroke-width="1.2"/><ellipse cx="815.5" cy="1230.4" rx="2.05" ry="2.35" fill="#f27c22" stroke="#5e3116" stroke-width="1.2"/><ellipse cx="815.5" cy="1241.8" rx="2.05" ry="2.35" fill="#f27c22" stroke="#5e3116" stroke-width="1.2"/><ellipse cx="804.7" cy="1193.6" rx="1.65" ry="1.85" fill="#f27c22" stroke="#5e3116" stroke-width="0.9"/><ellipse cx="804.7" cy="1203.5" rx="1.65" ry="1.85" fill="#f27c22" stroke="#5e3116" stroke-width="0.9"/><ellipse cx="804.7" cy="1213.3" rx="1.65" ry="1.85" fill="#f27c22" stroke="#5e3116" stroke-width="0.9"/><ellipse cx="804.7" cy="1223.0" rx="1.65" ry="1.85" fill="#f27c22" stroke="#5e3116" stroke-width="0.9"/><ellipse cx="804.7" cy="1232.7" rx="1.65" ry="1.85" fill="#f27c22" stroke="#5e3116" stroke-width="0.9"/><ellipse cx="795.1" cy="1202.5" rx="1.05" ry="1.15" fill="#f27c22" stroke="#5e3116" stroke-width="0.9"/><ellipse cx="795.1" cy="1209.7" rx="1.05" ry="1.15" fill="#f27c22" stroke="#5e3116" stroke-width="0.9"/><ellipse cx="795.1" cy="1216.6" rx="1.05" ry="1.15" fill="#f27c22" stroke="#5e3116" stroke-width="0.9"/><ellipse cx="795.1" cy="1223.4" rx="1.05" ry="1.15" fill="#f27c22" stroke="#5e3116" stroke-width="0.9"/><ellipse cx="786.3" cy="1210.5" rx="0.75" ry="0.75" fill="#f27c22" stroke="#5e3116" stroke-width="0.9"/><ellipse cx="786.3" cy="1215.8" rx="0.75" ry="0.75" fill="#f27c22" stroke="#5e3116" stroke-width="0.9"/>
</g>
<g id="arrows">
<line x1="86.6" y1="386.3" x2="242.7" y2="386.3" stroke="#fd3714" stroke-width="5.8"/><polygon points="274.7,386.3 241.7,395.0 241.7,377.6" fill="#fd3714"/>
<path d="M442.3,389.6 C482,392 508,414 508,446 V459" fill="none" stroke="#fd3714" stroke-width="5.5"/><polygon points="508,487.8 500.2,457.8 515.8,457.8" fill="#fd3714"/>
<line x1="491.5" y1="749.2" x2="516.3" y2="833.8" stroke="#fd3714" stroke-width="5.8"/><polygon points="525.0,863.5 507.4,835.3 524.6,830.3" fill="#fd3714"/>
<line x1="502.4" y1="1090.4" x2="532.1" y2="1174.6" stroke="#fd3714" stroke-width="5.8"/><polygon points="542.4,1203.8 523.3,1176.6 540.2,1170.6" fill="#fd3714"/>
<line x1="928.2" y1="673.0" x2="906.6" y2="759.1" stroke="#fd3714" stroke-width="5.8"/><polygon points="899.0,789.2 898.1,756.0 915.5,760.4" fill="#fd3714"/>
<line x1="918.8" y1="1024.5" x2="897.9" y2="1111.1" stroke="#fd3714" stroke-width="5.8"/><polygon points="890.6,1141.2 889.4,1108.0 906.9,1112.2" fill="#fd3714"/>
<path d="M530.6,1307.2 C536,1322 542,1331 550,1339 C560,1347 575,1354 591.5,1358.4 C603,1361 612,1362 621,1361.8" fill="none" stroke="#fd3714" stroke-width="4"/><polygon points="634.7,1358.4 619.6,1367 619,1357" fill="#fd3714"/>
<path d="M888,1307.2 C885,1316 882,1321 880.4,1325.2 C877,1332 873,1337 868,1341.8 C862,1347 856,1351 848.6,1354.3 C840,1358 832,1360 822.3,1360.5 C814,1361.5 806,1362 798,1361.9" fill="none" stroke="#fd3714" stroke-width="4"/><polygon points="784.2,1358.8 799.6,1367.2 800.2,1356.8" fill="#fd3714"/>
<line x1="1049.0" y1="389.3" x2="1139.5" y2="389.3" stroke="#0aeefc" stroke-width="7"/><polygon points="1171.0,389.3 1138.5,397.9 1138.5,380.7" fill="#0aeefc"/>
<line x1="712.7" y1="750.6" x2="712.7" y2="660.1" stroke="#0aeefc" stroke-width="5.6"/><polygon points="712.7,630.6 721.2,661.1 704.2,661.1" fill="#0aeefc"/>
<line x1="712.7" y1="1210.8" x2="712.7" y2="1119.9" stroke="#0aeefc" stroke-width="5.6"/><polygon points="712.7,1089.4 721.2,1120.9 704.2,1120.9" fill="#0aeefc"/>
<path d="M712.5,459.5 C716,420 728,394.6 758,394.6 H782" fill="none" stroke="#0aeefc" stroke-width="5.5"/><polygon points="811.5,394.6 781,385.9 781,403.3" fill="#0aeefc"/>
</g>
<g id="particles"><circle cx="55.0" cy="379.5" r="8.3" fill="url(#gPart)" stroke="#522a14" stroke-width="1.7"/><circle cx="184.5" cy="404.5" r="8.0" fill="url(#gPart)" stroke="#522a14" stroke-width="1.7"/><circle cx="260.3" cy="403.5" r="8.5" fill="url(#gPart)" stroke="#522a14" stroke-width="1.7"/><circle cx="343.0" cy="391.5" r="3.8" fill="url(#gPart)" stroke="#522a14" stroke-width="1.7"/><circle cx="383.5" cy="415.5" r="6.0" fill="url(#gPart)" stroke="#522a14" stroke-width="1.7"/><circle cx="506.0" cy="389.6" r="8.5" fill="url(#gPart)" stroke="#522a14" stroke-width="1.7"/><circle cx="450.7" cy="445.0" r="7.5" fill="url(#gPart)" stroke="#522a14" stroke-width="1.7"/><circle cx="496.3" cy="516.3" r="7.5" fill="url(#gPart)" stroke="#522a14" stroke-width="1.7"/><circle cx="490.0" cy="611.9" r="8.0" fill="url(#gPart)" stroke="#522a14" stroke-width="1.7"/><circle cx="903.7" cy="501.4" r="7.4" fill="url(#gPart)" stroke="#522a14" stroke-width="1.7"/><circle cx="953.1" cy="571.2" r="8.7" fill="url(#gPart)" stroke="#522a14" stroke-width="1.7"/><circle cx="899.8" cy="619.0" r="7.8" fill="url(#gPart)" stroke="#522a14" stroke-width="1.7"/><circle cx="488.5" cy="710.0" r="8.3" fill="url(#gPart)" stroke="#522a14" stroke-width="1.7"/><circle cx="488.5" cy="888.6" r="8.0" fill="url(#gPart)" stroke="#522a14" stroke-width="1.7"/><circle cx="523.6" cy="968.6" r="9.0" fill="url(#gPart)" stroke="#522a14" stroke-width="1.7"/><circle cx="494.0" cy="1004.0" r="4.2" fill="url(#gPart)" stroke="#522a14" stroke-width="1.7"/><circle cx="501.0" cy="1067.0" r="9.0" fill="url(#gPart)" stroke="#522a14" stroke-width="1.7"/><circle cx="503.0" cy="1190.5" r="8.0" fill="url(#gPart)" stroke="#522a14" stroke-width="1.7"/><circle cx="509.1" cy="1270.5" r="8.5" fill="url(#gPart)" stroke="#522a14" stroke-width="1.7"/><circle cx="589.4" cy="1364.6" r="9.0" fill="url(#gPart)" stroke="#522a14" stroke-width="1.7"/><circle cx="644.0" cy="1370.1" r="6.0" fill="url(#gPart)" stroke="#522a14" stroke-width="1.7"/><circle cx="758.1" cy="1372.6" r="7.0" fill="url(#gPart)" stroke="#522a14" stroke-width="1.7"/><circle cx="912.0" cy="805.0" r="7.0" fill="url(#gPart)" stroke="#522a14" stroke-width="1.7"/><circle cx="887.5" cy="882.0" r="7.0" fill="url(#gPart)" stroke="#522a14" stroke-width="1.7"/><circle cx="913.5" cy="965.0" r="8.0" fill="url(#gPart)" stroke="#522a14" stroke-width="1.7"/><circle cx="891.5" cy="1057.0" r="7.0" fill="url(#gPart)" stroke="#522a14" stroke-width="1.7"/><circle cx="890.8" cy="1254.3" r="6.3" fill="url(#gPart)" stroke="#522a14" stroke-width="1.7"/></g>
<g id="bubbles"><circle cx="824.7" cy="386.6" r="9.0" fill="url(#gBub)" stroke="#55e6e2" stroke-width="1.8"/><circle cx="737.4" cy="431.5" r="7.0" fill="url(#gBub)" stroke="#55e6e2" stroke-width="1.8"/><circle cx="898.0" cy="362.0" r="4.5" fill="url(#gBub)" stroke="#55e6e2" stroke-width="1.8"/><circle cx="954.0" cy="379.0" r="7.5" fill="url(#gBub)" stroke="#55e6e2" stroke-width="1.8"/><circle cx="1004.7" cy="387.7" r="7.0" fill="url(#gBub)" stroke="#55e6e2" stroke-width="1.8"/><circle cx="1077.0" cy="354.8" r="5.0" fill="url(#gBub)" stroke="#55e6e2" stroke-width="1.8"/><circle cx="1190.0" cy="356.4" r="9.0" fill="url(#gBub)" stroke="#55e6e2" stroke-width="1.8"/><circle cx="1331.0" cy="362.5" r="5.5" fill="url(#gBub)" stroke="#55e6e2" stroke-width="1.8"/><circle cx="1399.8" cy="367.8" r="6.5" fill="url(#gBub)" stroke="#55e6e2" stroke-width="1.8"/><circle cx="1278.7" cy="395.0" r="7.0" fill="url(#gBub)" stroke="#55e6e2" stroke-width="1.8"/><circle cx="1134.0" cy="419.5" r="5.5" fill="url(#gBub)" stroke="#55e6e2" stroke-width="1.8"/><circle cx="693.5" cy="515.5" r="6.0" fill="url(#gBub)" stroke="#55e6e2" stroke-width="1.8"/><circle cx="732.5" cy="590.0" r="8.0" fill="url(#gBub)" stroke="#55e6e2" stroke-width="1.8"/><circle cx="682.0" cy="689.0" r="8.5" fill="url(#gBub)" stroke="#55e6e2" stroke-width="1.8"/><circle cx="723.0" cy="807.0" r="8.0" fill="url(#gBub)" stroke="#55e6e2" stroke-width="1.8"/><circle cx="756.0" cy="912.0" r="8.5" fill="url(#gBub)" stroke="#55e6e2" stroke-width="1.8"/><circle cx="677.5" cy="950.0" r="6.2" fill="url(#gBub)" stroke="#55e6e2" stroke-width="1.8"/><circle cx="752.5" cy="1031.0" r="6.0" fill="url(#gBub)" stroke="#55e6e2" stroke-width="1.8"/><circle cx="746.8" cy="1141.4" r="8.5" fill="url(#gBub)" stroke="#55e6e2" stroke-width="1.8"/><circle cx="710.3" cy="1289.0" r="9.0" fill="url(#gBub)" stroke="#55e6e2" stroke-width="1.8"/></g>
<g id="labels">
<text x="105.00" y="517.7" font-size="65" font-weight="bold" fill="#000" textLength="108.7" lengthAdjust="spacingAndGlyphs" >Raw</text><text x="105.50" y="517.7" font-size="65" font-weight="bold" fill="#000" textLength="108.7" lengthAdjust="spacingAndGlyphs" >Raw</text><text x="106.00" y="517.7" font-size="65" font-weight="bold" fill="#000" textLength="108.7" lengthAdjust="spacingAndGlyphs" >Raw</text><text x="106.50" y="517.7" font-size="65" font-weight="bold" fill="#000" textLength="108.7" lengthAdjust="spacingAndGlyphs" >Raw</text><text x="107.00" y="517.7" font-size="65" font-weight="bold" fill="#000" textLength="108.7" lengthAdjust="spacingAndGlyphs" >Raw</text>
<text x="37.20" y="597.6" font-size="65" font-weight="bold" fill="#000" textLength="246.4" lengthAdjust="spacingAndGlyphs" >Unfiltered</text><text x="37.70" y="597.6" font-size="65" font-weight="bold" fill="#000" textLength="246.4" lengthAdjust="spacingAndGlyphs" >Unfiltered</text><text x="38.20" y="597.6" font-size="65" font-weight="bold" fill="#000" textLength="246.4" lengthAdjust="spacingAndGlyphs" >Unfiltered</text><text x="38.70" y="597.6" font-size="65" font-weight="bold" fill="#000" textLength="246.4" lengthAdjust="spacingAndGlyphs" >Unfiltered</text><text x="39.20" y="597.6" font-size="65" font-weight="bold" fill="#000" textLength="246.4" lengthAdjust="spacingAndGlyphs" >Unfiltered</text>
<text x="89.70" y="677.0" font-size="65" font-weight="bold" fill="#000" textLength="144.5" lengthAdjust="spacingAndGlyphs" >Water</text><text x="90.20" y="677.0" font-size="65" font-weight="bold" fill="#000" textLength="144.5" lengthAdjust="spacingAndGlyphs" >Water</text><text x="90.70" y="677.0" font-size="65" font-weight="bold" fill="#000" textLength="144.5" lengthAdjust="spacingAndGlyphs" >Water</text><text x="91.20" y="677.0" font-size="65" font-weight="bold" fill="#000" textLength="144.5" lengthAdjust="spacingAndGlyphs" >Water</text><text x="91.70" y="677.0" font-size="65" font-weight="bold" fill="#000" textLength="144.5" lengthAdjust="spacingAndGlyphs" >Water</text>
<text x="1207.00" y="514.6" font-size="67" font-weight="bold" fill="#000" textLength="190.4" lengthAdjust="spacingAndGlyphs" >Filtered</text><text x="1207.50" y="514.6" font-size="67" font-weight="bold" fill="#000" textLength="190.4" lengthAdjust="spacingAndGlyphs" >Filtered</text><text x="1208.00" y="514.6" font-size="67" font-weight="bold" fill="#000" textLength="190.4" lengthAdjust="spacingAndGlyphs" >Filtered</text><text x="1208.50" y="514.6" font-size="67" font-weight="bold" fill="#000" textLength="190.4" lengthAdjust="spacingAndGlyphs" >Filtered</text><text x="1209.00" y="514.6" font-size="67" font-weight="bold" fill="#000" textLength="190.4" lengthAdjust="spacingAndGlyphs" >Filtered</text>
<text x="1232.40" y="594.2" font-size="67" font-weight="bold" fill="#000" textLength="143.2" lengthAdjust="spacingAndGlyphs" >Water</text><text x="1232.90" y="594.2" font-size="67" font-weight="bold" fill="#000" textLength="143.2" lengthAdjust="spacingAndGlyphs" >Water</text><text x="1233.40" y="594.2" font-size="67" font-weight="bold" fill="#000" textLength="143.2" lengthAdjust="spacingAndGlyphs" >Water</text><text x="1233.90" y="594.2" font-size="67" font-weight="bold" fill="#000" textLength="143.2" lengthAdjust="spacingAndGlyphs" >Water</text><text x="1234.40" y="594.2" font-size="67" font-weight="bold" fill="#000" textLength="143.2" lengthAdjust="spacingAndGlyphs" >Water</text>
<text x="103.10" y="1059.0" font-size="55" font-weight="bold" fill="#000" textLength="210.7" lengthAdjust="spacingAndGlyphs" >Quality of</text><text x="103.60" y="1059.0" font-size="55" font-weight="bold" fill="#000" textLength="210.7" lengthAdjust="spacingAndGlyphs" >Quality of</text><text x="104.10" y="1059.0" font-size="55" font-weight="bold" fill="#000" textLength="210.7" lengthAdjust="spacingAndGlyphs" >Quality of</text><text x="104.60" y="1059.0" font-size="55" font-weight="bold" fill="#000" textLength="210.7" lengthAdjust="spacingAndGlyphs" >Quality of</text><text x="105.10" y="1059.0" font-size="55" font-weight="bold" fill="#000" textLength="210.7" lengthAdjust="spacingAndGlyphs" >Quality of</text>
<text x="112.20" y="1127.9" font-size="55" font-weight="bold" fill="#000" textLength="195.1" lengthAdjust="spacingAndGlyphs" >Filtration</text><text x="112.70" y="1127.9" font-size="55" font-weight="bold" fill="#000" textLength="195.1" lengthAdjust="spacingAndGlyphs" >Filtration</text><text x="113.20" y="1127.9" font-size="55" font-weight="bold" fill="#000" textLength="195.1" lengthAdjust="spacingAndGlyphs" >Filtration</text><text x="113.70" y="1127.9" font-size="55" font-weight="bold" fill="#000" textLength="195.1" lengthAdjust="spacingAndGlyphs" >Filtration</text><text x="114.20" y="1127.9" font-size="55" font-weight="bold" fill="#000" textLength="195.1" lengthAdjust="spacingAndGlyphs" >Filtration</text>
<text x="68.00" y="1197.4" font-size="55" font-weight="bold" fill="#000" textLength="281.4" lengthAdjust="spacingAndGlyphs" >Increases As</text><text x="68.50" y="1197.4" font-size="55" font-weight="bold" fill="#000" textLength="281.4" lengthAdjust="spacingAndGlyphs" >Increases As</text><text x="69.00" y="1197.4" font-size="55" font-weight="bold" fill="#000" textLength="281.4" lengthAdjust="spacingAndGlyphs" >Increases As</text><text x="69.50" y="1197.4" font-size="55" font-weight="bold" fill="#000" textLength="281.4" lengthAdjust="spacingAndGlyphs" >Increases As</text><text x="70.00" y="1197.4" font-size="55" font-weight="bold" fill="#000" textLength="281.4" lengthAdjust="spacingAndGlyphs" >Increases As</text>
<text x="62.50" y="1267.2" font-size="55" font-weight="bold" fill="#000" textLength="293.9" lengthAdjust="spacingAndGlyphs" >Water Passes</text><text x="63.00" y="1267.2" font-size="55" font-weight="bold" fill="#000" textLength="293.9" lengthAdjust="spacingAndGlyphs" >Water Passes</text><text x="63.50" y="1267.2" font-size="55" font-weight="bold" fill="#000" textLength="293.9" lengthAdjust="spacingAndGlyphs" >Water Passes</text><text x="64.00" y="1267.2" font-size="55" font-weight="bold" fill="#000" textLength="293.9" lengthAdjust="spacingAndGlyphs" >Water Passes</text><text x="64.50" y="1267.2" font-size="55" font-weight="bold" fill="#000" textLength="293.9" lengthAdjust="spacingAndGlyphs" >Water Passes</text>
<text x="72.70" y="1337.1" font-size="55" font-weight="bold" fill="#000" textLength="277.7" lengthAdjust="spacingAndGlyphs" >Through The</text><text x="73.20" y="1337.1" font-size="55" font-weight="bold" fill="#000" textLength="277.7" lengthAdjust="spacingAndGlyphs" >Through The</text><text x="73.70" y="1337.1" font-size="55" font-weight="bold" fill="#000" textLength="277.7" lengthAdjust="spacingAndGlyphs" >Through The</text><text x="74.20" y="1337.1" font-size="55" font-weight="bold" fill="#000" textLength="277.7" lengthAdjust="spacingAndGlyphs" >Through The</text><text x="74.70" y="1337.1" font-size="55" font-weight="bold" fill="#000" textLength="277.7" lengthAdjust="spacingAndGlyphs" >Through The</text>
<text x="154.00" y="1405.7" font-size="55" font-weight="bold" fill="#000" textLength="111.2" lengthAdjust="spacingAndGlyphs" >Filter</text><text x="154.50" y="1405.7" font-size="55" font-weight="bold" fill="#000" textLength="111.2" lengthAdjust="spacingAndGlyphs" >Filter</text><text x="155.00" y="1405.7" font-size="55" font-weight="bold" fill="#000" textLength="111.2" lengthAdjust="spacingAndGlyphs" >Filter</text><text x="155.50" y="1405.7" font-size="55" font-weight="bold" fill="#000" textLength="111.2" lengthAdjust="spacingAndGlyphs" >Filter</text><text x="156.00" y="1405.7" font-size="55" font-weight="bold" fill="#000" textLength="111.2" lengthAdjust="spacingAndGlyphs" >Filter</text>
<line x1="335.3" y1="1045.8" x2="530" y2="930.8" stroke="#000" stroke-width="5.8"/><polygon points="563.6,910.9 520.5,921.5 533.8,944" fill="#000"/>
</g>
</svg></body></html>
